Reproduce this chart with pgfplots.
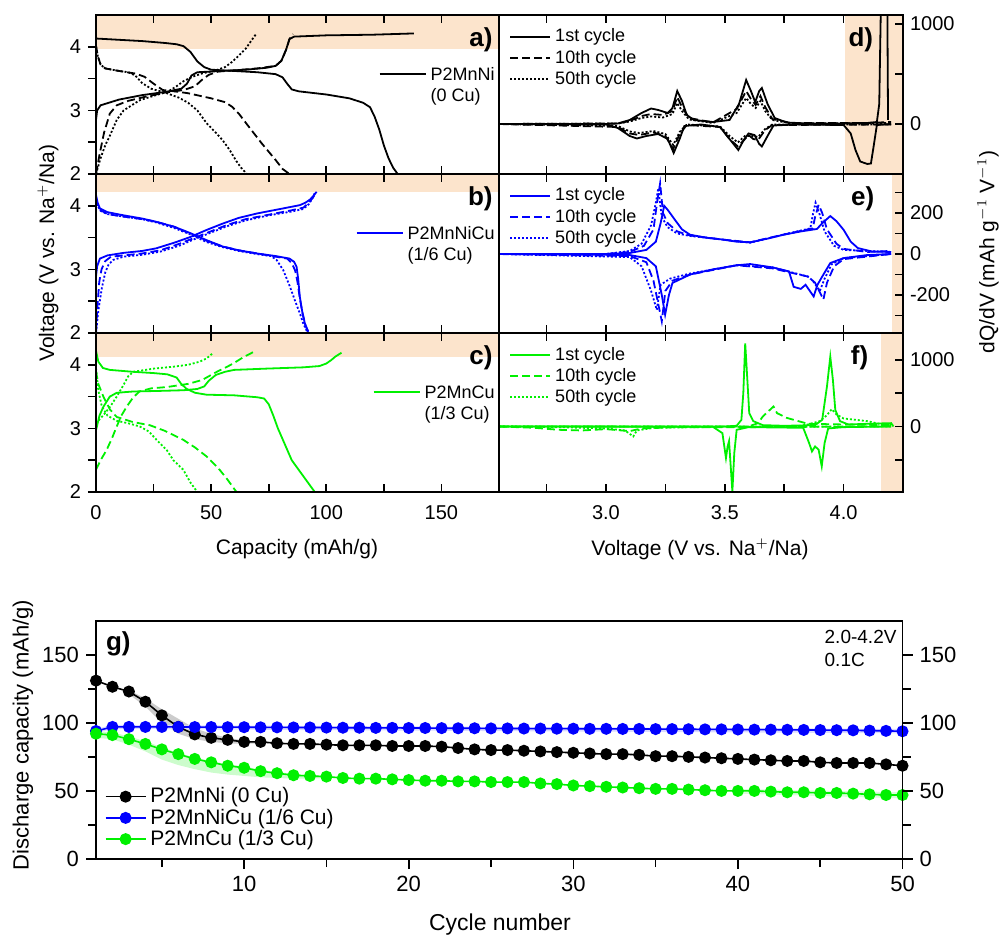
\documentclass[border=0pt]{standalone}
\usepackage{fontspec}
\setmainfont{Liberation Sans}
\usepackage{pgfplots}
\pgfplotsset{compat=1.18}
\definecolor{bandc}{RGB}{252,228,204}
\definecolor{myblue}{RGB}{0,0,255}
\definecolor{mygreen}{RGB}{0,240,0}
\tikzset{plabel/.style={font=\bfseries\fontsize{13}{14}\selectfont, inner sep=0pt}}
\pgfplotsset{
  base/.style={scale only axis, axis line style={line width=0.9pt}, every tick/.style={line width=0.8pt, black},
    /pgf/number format/assume math mode=true, /pgf/number format/1000 sep={}, tick label style={font=\fontsize{10}{12}\selectfont},
    major tick length=4pt, minor tick length=4pt, clip=true},
  leftp/.style={base, width=201.5pt, height=79.5pt, xmin=0, xmax=175, ymin=2, ymax=4.5,
    xtick={0,50,100,150}, minor xtick={25,75,125,175}, ytick={2,3,4}, minor ytick={2.5,3.5},
    xtick align=inside, ytick align=outside, ytick pos=left, xtick pos=both, axis on top, xticklabel shift=3pt,
    legend style={at={(1,0.71)}, anchor=north east, draw=none, fill=none, font=\fontsize{9}{10.5}\selectfont, inner sep=0pt, cells={anchor=west}},
    legend image code/.code={\draw[##1] (0pt,0pt) -- (23pt,0pt);}},
  rightp/.style={base, width=202pt, height=79.5pt, xmin=2.55, xmax=4.25,
    xtick={3.0,3.5,4.0}, minor xtick={2.75,3.25,3.75,4.25}, tick align=inside,
    ytick pos=right, yticklabel pos=right, xtick pos=both, axis on top, xticklabel shift=3pt,
    xticklabel style={/pgf/number format/.cd, fixed, fixed zerofill, precision=1},
    legend style={at={(0.01,0.965)}, anchor=north west, draw=none, fill=none, font=\fontsize{9}{10.5}\selectfont, row sep=-1.5pt, cells={anchor=west}},
    legend image code/.code={\draw[##1] (0pt,0pt) -- (20pt,0pt);}},
  s1/.style={line width=0.9pt, solid},
  s10/.style={line width=0.9pt, dash pattern=on 4pt off 2pt},
  s50/.style={line width=0.9pt, dash pattern=on 1pt off 1pt},
}
\begin{document}
\begin{tikzpicture}
\path[use as bounding box] (0,0) rectangle (500pt,469pt);

%%%%%%%%%%%%%%%% a %%%%%%%%%%%%%%%%
\begin{axis}[leftp, at={(48pt,382pt)}, anchor=south west, xticklabels=\empty]
\addplot[fill=bandc, draw=none, forget plot] coordinates {(0,3.97) (175,3.97) (175,4.5) (0,4.5)};
\addplot[s1, black] coordinates {(0,2.85)(0.5,3.0)(2,3.08)(10,3.17)(20,3.24)(30,3.29)(37,3.34)(39.5,3.42)(41.5,3.55)(44,3.6)(55,3.62)(65,3.64)(74,3.67)(78,3.7)(80.5,3.78)(82.5,3.95)(84,4.12)(86,4.16)(100,4.18)(120,4.19)(138,4.21)};
\addlegendentry{\begin{tabular}[t]{@{}l@{}}P2MnNi\\(0 Cu)\end{tabular}}
\addplot[s1, black, forget plot] coordinates {(0,4.13)(10,4.11)(20,4.09)(30,4.06)(35,4.04)(38,4.01)(41,3.92)(44,3.77)(47,3.68)(50,3.64)(60,3.62)(70,3.6)(78,3.57)(81,3.52)(83,3.42)(85,3.33)(88,3.3)(100,3.25)(110,3.19)(116,3.12)(119,3.05)(121,2.9)(123,2.7)(125,2.45)(127,2.25)(129,2.1)(131,2.0)};
\addplot[s10, black, forget plot] coordinates {(0,2.0)(1.5,2.3)(3.5,2.65)(6,2.95)(9,3.08)(14,3.15)(22,3.22)(30,3.28)(38,3.32)(43,3.38)(46,3.48)(49,3.56)(53,3.61)(60,3.63)(70,3.66)(78,3.7)(80.5,3.78)(82.5,3.95)(84,4.12)(85.5,4.2)};
\addplot[s10, black, forget plot] coordinates {(0,4.02)(0.8,3.85)(2,3.72)(4,3.66)(10,3.62)(17,3.58)(21,3.53)(25,3.42)(29,3.32)(34,3.3)(40,3.27)(50,3.19)(56,3.13)(59,3.06)(62,2.95)(66,2.76)(72,2.48)(78,2.22)(81,2.08)(84,2.0)};
\addplot[s50, black, forget plot] coordinates {(0,2.0)(2,2.25)(4,2.45)(6,2.6)(9,2.85)(12,3.0)(19,3.16)(26,3.24)(31,3.29)(35,3.38)(38,3.46)(42,3.53)(46,3.58)(52,3.63)(56,3.68)(59,3.76)(62,3.86)(65,3.97)(67.5,4.1)(69.7,4.21)};
\addplot[s50, black, forget plot] coordinates {(0,4.0)(0.8,3.85)(2,3.72)(4,3.66)(10,3.62)(14,3.6)(17,3.55)(20,3.43)(24,3.34)(30,3.28)(36,3.2)(40,3.12)(44,3.0)(48,2.8)(52,2.65)(55,2.53)(58,2.38)(61,2.2)(63,2.1)(65.5,2.0)};
\node[plabel, anchor=north east] at (rel axis cs:0.985,0.92) {a)};
\end{axis}

%%%%%%%%%%%%%%%% b %%%%%%%%%%%%%%%%
\begin{axis}[leftp, at={(48pt,302.5pt)}, anchor=south west, xticklabels=\empty]
\addplot[fill=bandc, draw=none, forget plot] coordinates {(0,4.215) (175,4.215) (175,4.5) (0,4.5)};
\addplot[s1, myblue] coordinates {(0,2.89)(0.5,3.05)(1.7,3.17)(5,3.22)(12,3.26)(20,3.29)(26,3.33)(34,3.42)(41,3.51)(48,3.62)(55,3.72)(62,3.81)(70,3.88)(80,3.95)(88.5,4.01)(91,4.05)(93,4.1)(94.5,4.16)(95.8,4.22)};
\addlegendentry{\begin{tabular}[t]{@{}l@{}}P2MnNiCu\\(1/6 Cu)\end{tabular}}
\addplot[s1, myblue, forget plot] coordinates {(0,4.17)(0.7,4.05)(1.7,3.96)(5,3.9)(12,3.85)(20,3.8)(26,3.75)(34,3.67)(41,3.57)(48,3.46)(55,3.36)(62,3.3)(70,3.25)(78,3.21)(84,3.17)(86,3.12)(87.1,3.04)(87.8,2.85)(88.5,2.57)(89.5,2.35)(90.7,2.15)(92.2,2.0)};
\addplot[s10, myblue, forget plot] coordinates {(0,2.0)(0.6,2.4)(1.4,2.8)(2.4,3.0)(4,3.13)(6.5,3.2)(12,3.22)(20,3.25)(28,3.3)(36,3.4)(43,3.5)(50,3.6)(57,3.7)(65,3.79)(75,3.86)(85,3.93)(90,3.97)(92.5,4.05)(94,4.12)(95.5,4.2)};
\addplot[s10, myblue, forget plot] coordinates {(0,4.12)(0.7,4.02)(2,3.93)(5,3.87)(12,3.83)(20,3.79)(26,3.75)(34,3.67)(41,3.56)(48,3.45)(55,3.36)(62,3.3)(70,3.25)(78,3.2)(83,3.17)(85,3.1)(86.5,2.98)(87.5,2.8)(88.5,2.55)(89.7,2.3)(91,2.12)(92.5,2.0)};
\addplot[s50, myblue, forget plot] coordinates {(0,2.0)(1,2.35)(2.5,2.7)(4,2.95)(5.5,3.08)(7.5,3.15)(12,3.2)(20,3.23)(28,3.28)(36,3.37)(43,3.48)(50,3.58)(57,3.68)(65,3.77)(75,3.85)(85,3.91)(90,3.95)(92.5,4.03)(94,4.12)(95,4.2)};
\addplot[s50, myblue, forget plot] coordinates {(0,4.1)(0.7,4.0)(2,3.92)(5,3.87)(12,3.83)(20,3.79)(26,3.74)(34,3.65)(41,3.55)(48,3.43)(55,3.35)(62,3.29)(70,3.24)(76,3.21)(78.4,3.15)(81.3,2.99)(84.2,2.73)(86.5,2.5)(88.5,2.31)(90,2.15)(91.3,2.05)(92,2.0)};
\node[plabel, anchor=north east] at (rel axis cs:0.985,0.92) {b)};
\end{axis}

%%%%%%%%%%%%%%%% c %%%%%%%%%%%%%%%%
\begin{axis}[leftp, at={(48pt,223pt)}, anchor=south west]
\addplot[fill=bandc, draw=none, forget plot] coordinates {(0,4.12) (175,4.12) (175,4.5) (0,4.5)};
\addplot[s1, mygreen] coordinates {(0,2.97)(1.5,3.2)(3.2,3.34)(6,3.5)(9,3.56)(16,3.58)(28,3.59)(38,3.6)(44,3.62)(47,3.66)(49,3.75)(52,3.84)(56,3.89)(60,3.92)(74,3.94)(90,3.96)(97,3.98)(100,4.02)(102,4.07)(104,4.13)(106.6,4.19)};
\addlegendentry{\begin{tabular}[t]{@{}l@{}}P2MnCu\\(1/3 Cu)\end{tabular}}
\addplot[s1, mygreen, forget plot] coordinates {(0,4.22)(1,4.05)(3,3.95)(6,3.92)(16,3.89)(25,3.87)(31,3.85)(35,3.8)(37,3.7)(39.4,3.62)(43,3.56)(48,3.53)(60,3.52)(70,3.49)(73,3.47)(75,3.38)(77,3.2)(79,3.0)(82,2.75)(85,2.5)(89,2.3)(92,2.15)(95,2.0)};
\addplot[s10, mygreen, forget plot] coordinates {(0,2.35)(2,2.5)(4.6,2.66)(7,2.85)(9,3.03)(11,3.2)(13.3,3.34)(16,3.48)(18.8,3.58)(24,3.63)(30.7,3.65)(40,3.7)(46,3.76)(50,3.84)(53,3.9)(57,3.97)(60,4.03)(64,4.12)(68.3,4.2)};
\addplot[s10, mygreen, forget plot] coordinates {(0,3.9)(1,3.7)(3.2,3.5)(6,3.3)(9,3.18)(16,3.1)(23.4,3.05)(30,2.96)(37.9,2.82)(43,2.7)(48,2.56)(53,2.38)(57,2.2)(61,2.0)};
\addplot[s50, mygreen, forget plot] coordinates {(0,3.08)(3,3.2)(6.1,3.34)(9,3.5)(11.9,3.68)(14,3.82)(16.2,3.89)(25,3.94)(33.6,3.97)(40,4.0)(45.1,4.05)(48,4.1)(51,4.19)};
\addplot[s50, mygreen, forget plot] coordinates {(0,3.95)(1,3.6)(2.5,3.35)(5,3.2)(9,3.12)(14,3.08)(19,3.03)(23,2.95)(26.3,2.82)(30.7,2.66)(33.6,2.5)(37.9,2.35)(41,2.15)(44,2.0)};
\node[plabel, anchor=north east] at (rel axis cs:0.985,0.92) {c)};
\end{axis}

%%%%%%%%%%%%%%%% d %%%%%%%%%%%%%%%%
\begin{axis}[rightp, at={(249.5pt,382pt)}, anchor=south west, xticklabels=\empty, ymin=-500, ymax=1090, ytick={0,1000}, minor ytick={500}]
\addplot[fill=bandc, draw=none, forget plot] coordinates {(4.005,-500) (4.25,-500) (4.25,1090) (4.005,1090)};
\addplot[s1, black] coordinates {(2.55,0)(3.0,0)(3.05,5)(3.1,40)(3.15,110)(3.19,155)(3.22,140)(3.26,110)(3.28,160)(3.3,330)(3.32,230)(3.34,90)(3.37,40)(3.45,20)(3.52,40)(3.56,200)(3.59,440)(3.61,330)(3.628,220)(3.645,330)(3.656,360)(3.68,200)(3.71,60)(3.76,15)(3.85,5)(4.0,5)(4.1,10)(4.14,20)(4.15,200)(4.157,1200)(4.17,3000)(4.184,1200)(4.187,40)};
\addlegendentry{1st cycle}
\addplot[s10, black] coordinates {(2.55,0)(3.05,5)(3.1,30)(3.15,80)(3.19,100)(3.24,90)(3.28,130)(3.3,270)(3.32,170)(3.35,60)(3.45,15)(3.55,150)(3.59,330)(3.61,250)(3.63,190)(3.65,280)(3.67,170)(3.7,50)(3.78,10)(4.1,10)(4.2,20)};
\addlegendentry{10th cycle}
\addplot[s50, black] coordinates {(2.55,0)(3.05,5)(3.1,25)(3.15,60)(3.19,75)(3.24,65)(3.28,100)(3.3,210)(3.32,130)(3.35,45)(3.45,10)(3.55,110)(3.59,260)(3.61,200)(3.63,160)(3.65,230)(3.67,130)(3.7,40)(3.78,5)(4.2,10)};
\addlegendentry{50th cycle}
\addplot[s1, black, forget plot] coordinates {(2.55,0)(3.0,-5)(3.05,-40)(3.1,-120)(3.13,-145)(3.17,-120)(3.22,-100)(3.26,-150)(3.285,-290)(3.31,-150)(3.33,-20)(3.4,-5)(3.48,-30)(3.53,-180)(3.557,-260)(3.58,-160)(3.6,-95)(3.625,-110)(3.645,-200)(3.656,-225)(3.68,-120)(3.705,-15)(3.8,-5)(4.0,-10)(4.03,-95)(4.05,-260)(4.07,-375)(4.1,-400)(4.115,-395)(4.126,-230)(4.14,-10)(4.2,0)};
\addplot[s10, black, forget plot] coordinates {(2.55,0)(3.05,-30)(3.1,-95)(3.14,-110)(3.2,-85)(3.25,-120)(3.283,-250)(3.31,-100)(3.34,-10)(3.48,-30)(3.52,-150)(3.555,-225)(3.585,-150)(3.6,-110)(3.62,-150)(3.64,-160)(3.67,-60)(3.7,-10)(4.2,-5)};
\addplot[s50, black, forget plot] coordinates {(2.55,0)(3.05,-20)(3.1,-75)(3.14,-90)(3.2,-70)(3.25,-100)(3.283,-210)(3.31,-80)(3.34,-5)(3.48,-25)(3.52,-120)(3.555,-185)(3.585,-120)(3.62,-120)(3.64,-130)(3.67,-50)(3.7,-5)(4.2,-5)};
\node[plabel, anchor=north east] at (rel axis cs:0.927,0.92) {d)};
\end{axis}

%%%%%%%%%%%%%%%% e %%%%%%%%%%%%%%%%
\begin{axis}[rightp, at={(249.5pt,302.5pt)}, anchor=south west, xticklabels=\empty, ymin=-385, ymax=390, ytick={-200,0,200}, minor ytick={-300,-100,100,300}]
\addplot[fill=bandc, draw=none, forget plot] coordinates {(4.204,-385) (4.25,-385) (4.25,390) (4.204,390)};
\addplot[s1, myblue] coordinates {(2.55,0)(3.0,0)(3.1,5)(3.17,20)(3.21,60)(3.23,150)(3.245,235)(3.26,215)(3.29,167)(3.32,120)(3.354,94)(3.42,80)(3.494,70)(3.55,60)(3.607,57)(3.68,75)(3.748,94)(3.82,110)(3.888,122)(3.91,150)(3.944,185)(3.97,160)(4.0,118)(4.03,60)(4.06,29)(4.12,12)(4.2,10)};
\addlegendentry{1st cycle}
\addplot[s10, myblue] coordinates {(2.55,0)(3.0,0)(3.1,10)(3.16,40)(3.2,120)(3.215,250)(3.228,345)(3.24,200)(3.26,150)(3.3,110)(3.354,90)(3.494,70)(3.607,57)(3.748,95)(3.87,125)(3.88,180)(3.895,240)(3.91,200)(3.93,120)(3.97,50)(4.0,25)(4.1,10)(4.2,15)};
\addlegendentry{10th cycle}
\addplot[s50, myblue] coordinates {(2.55,0)(3.0,0)(3.1,15)(3.15,50)(3.19,140)(3.21,250)(3.22,320)(3.235,180)(3.26,130)(3.3,100)(3.354,88)(3.494,70)(3.607,55)(3.748,95)(3.86,125)(3.872,200)(3.882,250)(3.9,190)(3.92,110)(3.96,40)(4.0,20)(4.2,10)};
\addlegendentry{50th cycle}
\addplot[s1, myblue, forget plot] coordinates {(2.55,0)(3.1,-5)(3.17,-20)(3.21,-60)(3.235,-200)(3.249,-296)(3.265,-200)(3.28,-141)(3.354,-100)(3.45,-75)(3.55,-55)(3.607,-49)(3.7,-65)(3.77,-85)(3.79,-160)(3.82,-170)(3.84,-150)(3.874,-207)(3.89,-150)(3.91,-110)(3.944,-44)(4.0,-20)(4.1,-5)(4.2,0)};
\addplot[s10, myblue, forget plot] coordinates {(2.55,0)(3.1,-10)(3.17,-40)(3.2,-130)(3.235,-328)(3.25,-180)(3.28,-130)(3.354,-100)(3.55,-55)(3.7,-70)(3.85,-110)(3.88,-140)(3.915,-222)(3.93,-140)(3.96,-60)(4.0,-25)(4.2,0)};
\addplot[s50, myblue, forget plot] coordinates {(2.55,0)(3.1,-15)(3.15,-60)(3.19,-180)(3.214,-272)(3.23,-150)(3.27,-120)(3.354,-95)(3.55,-55)(3.7,-65)(3.85,-110)(3.87,-130)(3.9,-180)(3.92,-120)(3.95,-50)(4.0,-20)(4.2,0)};
\node[plabel, anchor=north east] at (rel axis cs:0.93,0.92) {e)};
\end{axis}

%%%%%%%%%%%%%%%% f %%%%%%%%%%%%%%%%
\begin{axis}[rightp, at={(249.5pt,223pt)}, anchor=south west, ymin=-985, ymax=1405, ytick={0,1000}, minor ytick={-500,500}]
\addplot[fill=bandc, draw=none, forget plot] coordinates {(4.157,-985) (4.25,-985) (4.25,1405) (4.157,1405)};
\addplot[s1, mygreen] coordinates {(2.55,0)(3.5,0)(3.55,10)(3.57,100)(3.578,500)(3.586,1250)(3.595,700)(3.603,200)(3.62,80)(3.66,20)(3.75,10)(3.88,20)(3.91,100)(3.93,600)(3.944,1050)(3.955,700)(3.965,250)(3.985,80)(4.02,30)(4.1,40)(4.2,50)(4.21,0)};
\addlegendentry{1st cycle}
\addplot[s10, mygreen] coordinates {(2.55,0)(3.6,0)(3.64,50)(3.66,150)(3.69,250)(3.705,300)(3.72,200)(3.76,130)(3.8,90)(3.85,40)(4.0,30)(4.2,20)};
\addlegendentry{10th cycle}
\addplot[s50, mygreen] coordinates {(2.55,0)(3.8,0)(3.85,30)(3.9,80)(3.93,170)(3.95,260)(3.97,180)(4.0,120)(4.05,100)(4.1,80)(4.15,40)(4.2,20)};
\addlegendentry{50th cycle}
\addplot[s1, mygreen, forget plot] coordinates {(2.55,0)(3.45,-5)(3.49,-100)(3.505,-475)(3.512,-300)(3.518,-220)(3.525,-600)(3.532,-980)(3.54,-400)(3.55,-50)(3.6,-10)(3.83,-20)(3.855,-250)(3.867,-375)(3.88,-300)(3.895,-350)(3.908,-600)(3.92,-250)(3.935,-30)(4.0,-10)(4.2,0)};
\addplot[s10, mygreen, forget plot] coordinates {(2.55,0)(2.7,-20)(2.8,-50)(2.9,-60)(3.0,-40)(3.1,-70)(3.15,-30)(3.3,-10)(3.6,-10)(4.2,0)};
\addplot[s50, mygreen, forget plot] coordinates {(2.55,0)(2.8,-10)(3.0,-30)(3.08,-60)(3.115,-150)(3.13,-60)(3.2,-20)(3.5,-5)(4.2,0)};
\node[plabel, anchor=north east] at (rel axis cs:0.915,0.92) {f)};
\end{axis}

\node[rotate=90, font=\fontsize{10.5}{12}\selectfont] at (24pt,342.5pt) {Voltage (V vs. Na$^{+}$/Na)};
\node[rotate=90, font=\fontsize{10.5}{12}\selectfont] at (494pt,343pt) {dQ/dV (mAh g$^{-1}$ V$^{-1}$)};
\node[font=\fontsize{10.5}{12}\selectfont] at (148.5pt,194.5pt) {Capacity (mAh/g)};
\node[font=\fontsize{10.5}{12}\selectfont] at (350pt,194.5pt) {Voltage (V vs. Na$^{+}$/Na)};

%%%%%%%%%%%%%%%% g %%%%%%%%%%%%%%%%
\begin{axis}[base, at={(48pt,39.5pt)}, anchor=south west, width=403.25pt, height=119.15pt,
  xmin=1, xmax=50, ymin=0, ymax=175, xtick={10,20,30,40,50}, minor xtick={5,15,25,35,45},
  ytick={0,50,100,150}, minor ytick={25,75,125}, tick align=outside, xtick pos=bottom, ytick pos=left,
  tick label style={font=\fontsize{11}{12}\selectfont}, major tick length=5pt, minor tick length=4pt,
  legend style={at={(0.003,0.01)}, anchor=south west, draw=none, fill=none, font=\fontsize{10.5}{11.5}\selectfont, row sep=-2.5pt, cells={anchor=west}},
  legend image code/.code={\draw[mark repeat=2,mark phase=2,#1] plot coordinates {(0pt,0pt) (10pt,0pt) (20pt,0pt)};}]
\addplot[fill=black!20, draw=none, forget plot] coordinates {(3,124)(4,118)(5,110)(6,103)(7,96)(8,92)(9,89)(10,87)(11,86)(11,85)(10,84.5)(9,85)(8,86)(7,88)(6,92)(5,100)(4,112)(3,121)};
\addplot[fill=mygreen!20, draw=none, forget plot] coordinates {(1,94)(2,93)(3,90)(4,86.5)(5,82)(6,78)(7,74.5)(8,72)(9,69.5)(10,68)(11,65.5)(12,64)(13,62.5)(14,61.5)(15,61)(15,59.5)(14,59)(13,59)(12,59.5)(11,60)(10,61)(9,62)(8,63.5)(7,66)(6,69)(5,73)(4,79)(3,84)(2,88)(1,89)};
\addplot[fill=myblue!15, draw=none, forget plot] coordinates {(1,95.5)(2,98.5)(50,95.5)(50,92.3)(2,95.5)(1,92.5)};
\addplot[fill=mygreen!15, draw=none, forget plot] coordinates {(40,51.5)(50,49)(50,44.5)(40,48)};
\addplot[black, line width=0.8pt, mark=*, mark size=2.6pt] coordinates {(1,131)(2,126.5)(3,123)(4,115.5)(5,105.5)(6,97)(7,91.5)(8,89)(9,87.5)(10,86)(11,86)(12,85)(13,84.5)(14,84.5)(15,84)(16,83.5)(17,83.5)(18,83.5)(19,83)(20,83)(21,83)(22,82.5)(23,81.5)(24,80.5)(25,80)(26,80)(27,79.5)(28,79)(29,78.5)(30,78)(31,77.5)(32,77)(33,77)(34,76.5)(35,75.5)(36,75.5)(37,75)(38,74.5)(39,74)(40,73.5)(41,73)(42,72.5)(43,72)(44,72)(45,71)(46,70.5)(47,70.5)(48,70.5)(49,69.5)(50,68.5)};
\addlegendentry{P2MnNi (0 Cu)}
\addplot[myblue, line width=0.8pt, mark=*, mark size=2.6pt] coordinates {(1,94)(2,97.0)(3,97.0)(4,97.0)(5,97.0)(6,97.0)(7,96.9)(8,96.9)(9,96.8)(10,96.8)(11,96.7)(12,96.7)(13,96.6)(14,96.6)(15,96.5)(16,96.4)(17,96.4)(18,96.3)(19,96.3)(20,96.2)(21,96.2)(22,96.1)(23,96.0)(24,96.0)(25,95.9)(26,95.9)(27,95.8)(28,95.8)(29,95.7)(30,95.7)(31,95.6)(32,95.6)(33,95.5)(34,95.5)(35,95.4)(36,95.4)(37,95.3)(38,95.2)(39,95.2)(40,95.1)(41,95.0)(42,95.0)(43,94.9)(44,94.8)(45,94.7)(46,94.6)(47,94.5)(48,94.3)(49,94.1)(50,93.8)};
\addlegendentry{P2MnNiCu (1/6 Cu)}
\addplot[mygreen, line width=0.8pt, mark=*, mark size=2.6pt] coordinates {(1,92)(2,91)(3,88)(4,84.5)(5,80.5)(6,77)(7,73.5)(8,71)(9,68.5)(10,67)(11,64.5)(12,63)(13,61.5)(14,61)(15,60.5)(16,59.5)(17,59)(18,59)(19,58.5)(20,58)(21,57.5)(22,57.5)(23,57)(24,57)(25,56.5)(26,56.5)(27,56.5)(28,55.5)(29,55)(30,54)(31,53.5)(32,53)(33,52.5)(34,52)(35,51.5)(36,51.5)(37,51)(38,50.5)(39,50)(40,50)(41,50)(42,49.5)(43,49)(44,49)(45,48.5)(46,48.5)(47,48)(48,47.5)(49,47)(50,47)};
\addlegendentry{P2MnCu (1/3 Cu)}
\node[plabel, anchor=north west] at (rel axis cs:0.012,0.955) {g)};
\node[anchor=north west, align=left, font=\fontsize{9.5}{11.5}\selectfont, inner sep=0pt] at (rel axis cs:0.903,0.96) {2.0-4.2V\\0.1C};
\end{axis}
\begin{axis}[base, at={(48pt,39.5pt)}, anchor=south west, width=403.25pt, height=119.15pt,
  xmin=1, xmax=50, ymin=0, ymax=175, axis x line=none, axis y line*=right,
  ytick={0,50,100,150}, minor ytick={25,75,125}, tick align=outside,
  tick label style={font=\fontsize{11}{12}\selectfont}, major tick length=5pt, minor tick length=4pt]
\end{axis}
\node[rotate=90, font=\fontsize{11}{12}\selectfont] at (11.5pt,101.5pt) {Discharge capacity (mAh/g)};
\node[font=\fontsize{11.5}{12}\selectfont] at (250pt,6.5pt) {Cycle number};
\end{tikzpicture}
\end{document}
